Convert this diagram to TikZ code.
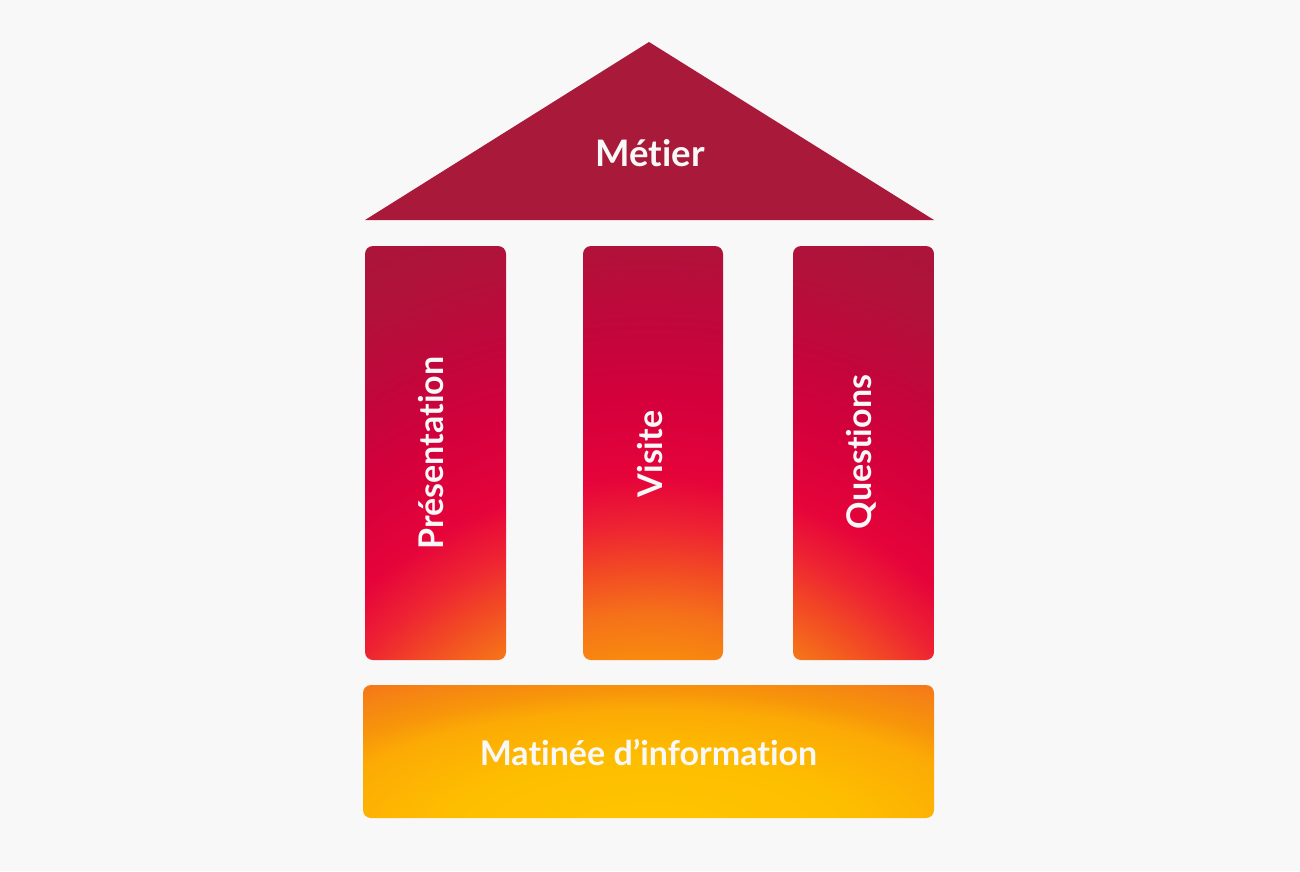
\documentclass[tikz,border=0pt]{standalone}
\usepackage{fontspec}
\setmainfont{Lato}[Ligatures={NoCommon}]
\newcommand{\noligk}{\kern0pt\relax}
\definecolor{bg}{HTML}{F8F8F8}
\definecolor{txt}{HTML}{F8F8F8}
\definecolor{roof}{HTML}{A91A3A}
\definecolor{p0}{HTML}{FFB000}
\definecolor{p1}{HTML}{FA9A0A}
\definecolor{p2}{HTML}{F88A0E}
\definecolor{p3}{HTML}{F5701A}
\definecolor{p4}{HTML}{F24A24}
\definecolor{p5}{HTML}{EE2432}
\definecolor{p6}{HTML}{E6043A}
\definecolor{p7}{HTML}{D4003C}
\definecolor{p8}{HTML}{C2063C}
\definecolor{p9}{HTML}{B0123A}
\definecolor{p10}{HTML}{A8163A}
\definecolor{b0}{HTML}{FFC600}
\definecolor{b1}{HTML}{FEBE00}
\definecolor{b2}{HTML}{FCAA05}
\definecolor{b3}{HTML}{F7950A}
\definecolor{b4}{HTML}{F68414}
\definecolor{b5}{HTML}{F5701A}
\pgfdeclareradialshading{pillarshade}{\pgfpoint{0bp}{0bp}}{%
color(0bp)=(p0); color(200bp)=(p1); color(240bp)=(p2); color(287bp)=(p3);
color(330bp)=(p4); color(372bp)=(p5); color(420bp)=(p6); color(500bp)=(p7);
color(570bp)=(p8); color(654bp)=(p9); color(750bp)=(p10)}
\pgfdeclareradialshading{baseshade}{\pgfpoint{0bp}{0bp}}{%
color(0bp)=(b0); color(80bp)=(b1); color(132bp)=(b2); color(152bp)=(b3);
color(176bp)=(b4); color(200bp)=(b5)}
\begin{document}
\begin{tikzpicture}[x=1pt,y=-1pt,
  lbl/.style={text=txt, font=\bfseries\fontsize{34}{40}\selectfont, inner sep=0pt, anchor=base}]
\useasboundingbox (0,0) rectangle (1300,871);
\fill[bg] (0,0) rectangle (1300,871);
% roof
\fill[roof] (649,42) -- (934,220) -- (365,220) -- cycle;
% pillars
\begin{scope}
\clip[rounded corners=8pt] (365,246) rectangle (506,660)
  (583,246) rectangle (723,660) (793,246) rectangle (934,660);
\node[inner sep=0pt] (pshade) at (650,900) {\pgfuseshading{pillarshade}};
\end{scope}
% base
\begin{scope}
\clip[rounded corners=8pt] (363,685) rectangle (934,818);
\node[inner sep=0pt] (bshade) at (650,835) {\resizebox{1040pt}{380pt}{\pgfuseshading{baseshade}}};
\end{scope}
% labels
\node[lbl, font=\bfseries\fontsize{36.5}{42}\selectfont] (metier) at (650,166) {Mét\noligk ier};
\node[lbl, rotate=90] (pres) at (443,453) {Présenta\noligk t\noligk ion};
\node[lbl, rotate=90] (visite) at (662,454) {Visi\noligk te};
\node[lbl, rotate=90] (quest) at (871,452) {Quest\noligk ions};
\node[lbl] (mat) at (648.5,765) {Matinée d’informat\noligk ion};
\end{tikzpicture}
\end{document}
